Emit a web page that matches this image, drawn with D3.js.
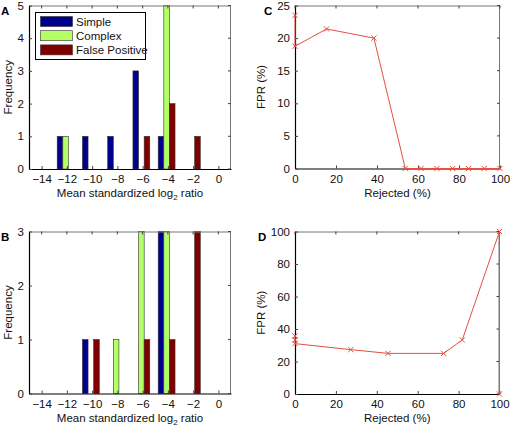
<!DOCTYPE html>
<html><head><meta charset="utf-8">
<script src="https://cdn.jsdelivr.net/npm/d3@7"></script>
<style>body{margin:0;background:#fff}svg{display:block}text{font-family:"Liberation Sans",Arial,sans-serif}</style>
</head><body>
<script>
// ---- data ----
const binCenters = [-12.1, -10.1, -8.1, -6.1, -4.1, -2.1];
const seriesNames = ["Simple", "Complex", "False Positive"];
const seriesColors = ["#00008f", "#b2ff66", "#800000"];
const histA_simple  = [1, 1, 1, 3, 1, 0];
const histA_complex = [1, 0, 0, 0, 5, 0];
const histA_fp      = [0, 0, 0, 1, 2, 1];
const histB_simple  = [0, 1, 0, 0, 3, 0];
const histB_complex = [0, 0, 1, 3, 3, 0];
const histB_fp      = [0, 1, 0, 1, 1, 3];
const histXTicks = [-14, -12, -10, -8, -6, -4, -2, 0];
const histATicksY = [0, 1, 2, 3, 4, 5];
const histBTicksY = [0, 1, 2, 3];
const rejectedC = [0, 0, 15.4, 38.5, 53.8, 61.5, 69.2, 76.9, 84.6, 92.3, 100];
const fprC      = [23.5, 18.75, 21.4, 20, 0, 0, 0, 0, 0, 0, 0];
const rejectedD = [0, 0, 0, 27.3, 45.5, 72.7, 81.8, 100, 100];
const fprD      = [35.7, 33.3, 31, 27.3, 25, 25, 33.3, 100, 0];
const lineXTicks = [0, 20, 40, 60, 80, 100];
const cTicksY = [0, 5, 10, 15, 20, 25];
const dTicksY = [0, 20, 40, 60, 80, 100];

const W = 510, H = 426;
const svg = d3.select("body").append("svg").attr("width", W).attr("height", H);
const FS = 11.5;

function frame(g, x, y, xt, yt, xLabel, yLabel, letter, L, T, R, B, letterX, yLabelX) {
  g.append("line").attr("x1", L).attr("x2", R).attr("y1", T + 0.5).attr("y2", T + 0.5).attr("stroke", "#777").attr("stroke-width", 1);
  g.append("line").attr("x1", R - 0.5).attr("x2", R - 0.5).attr("y1", T).attr("y2", B).attr("stroke", "#777").attr("stroke-width", 1);
  const xa = g.append("g").attr("transform", `translate(0,${B})`)
    .call(d3.axisBottom(x).tickValues(xt).tickSizeInner(-3).tickSizeOuter(0).tickPadding(6)
      .tickFormat(d => d < 0 ? "\u2212" + Math.abs(d) : String(d)));
  const ya = g.append("g").attr("transform", `translate(${L},0)`)
    .call(d3.axisLeft(y).tickValues(yt).tickSizeInner(-3).tickSizeOuter(0).tickPadding(5).tickFormat(d3.format("d")));
  [xa, ya].forEach(a => {
    a.select(".domain").attr("stroke", "#000").attr("stroke-width", 1.2);
    a.selectAll(".tick line").attr("stroke", "#444");
    a.selectAll("text").attr("font-size", FS).attr("fill", "#111").attr("font-family", '"Liberation Sans",Arial,sans-serif');
  });
  xt.forEach(v => g.append("line").attr("x1", x(v)).attr("x2", x(v)).attr("y1", T).attr("y2", T + 3).attr("stroke", "#444"));
  yt.forEach(v => g.append("line").attr("x1", R).attr("x2", R - 3).attr("y1", y(v)).attr("y2", y(v)).attr("stroke", "#444"));
  const xl = g.append("text").attr("x", (L + R) / 2).attr("y", B + 28).attr("text-anchor", "middle").attr("font-size", FS).attr("fill", "#111");
  if (Array.isArray(xLabel)) {
    xl.append("tspan").text(xLabel[0]);
    xl.append("tspan").attr("font-size", 8).attr("dy", 3).text(xLabel[1]);
    xl.append("tspan").attr("dy", -3).text(xLabel[2]);
  } else xl.text(xLabel);
  g.append("text").attr("transform", `translate(${yLabelX},${(T + B) / 2}) rotate(-90)`).attr("text-anchor", "middle").attr("font-size", FS).attr("fill", "#111").text(yLabel);
  g.append("text").attr("x", letterX).attr("y", T + 9).attr("font-size", 11.5).attr("font-weight", "bold").attr("fill", "#000").text(letter);
}

function histPanel(L, T, R, B, yMax, yt, data, letter, legend) {
  const g = svg.append("g");
  const x = d3.scaleLinear().domain([-15, 1]).range([L, R]);
  const y = d3.scaleLinear().domain([0, yMax]).range([B, T]);
  const bw = 2 * (2 / 3) / 3; // MATLAB grouped bar width
  data.forEach((vals, si) => {
    g.selectAll(null).data(binCenters.map((c, i) => ({c, v: vals[i]})).filter(d => d.v > 0)).enter()
      .append("rect")
      .attr("x", d => x(d.c + (si - 1) * bw - bw / 2))
      .attr("width", d => x(d.c + bw / 2) - x(d.c - bw / 2))
      .attr("y", d => y(d.v))
      .attr("height", d => y(0) - y(d.v))
      .attr("fill", seriesColors[si]).attr("stroke", "#333").attr("stroke-width", 0.6);
  });
  frame(g, x, y, histXTicks, yt, ["Mean standardized log", "2", " ratio"], "Frequency", letter, L, T, R, B, 1, 12);
  if (legend) {
    const lg = g.append("g");
    lg.append("rect").attr("x", 35.5).attr("y", 12.5).attr("width", 110).attr("height", 47).attr("fill", "#fff").attr("stroke", "#000").attr("stroke-width", 1);
    seriesNames.forEach((n, i) => {
      const cy = 21.5 + i * 14.2;
      lg.append("rect").attr("x", 40.5).attr("y", cy - 5).attr("width", 32).attr("height", 10).attr("fill", seriesColors[i]).attr("stroke", "#333").attr("stroke-width", 0.6);
      lg.append("text").attr("x", 76).attr("y", cy + 4).attr("font-size", FS).attr("fill", "#111").text(n);
    });
  }
}

function linePanel(L, T, R, B, yMax, yt, xs, ys, letter, letterX) {
  const g = svg.append("g");
  const x = d3.scaleLinear().domain([0, 100]).range([L, R]);
  const y = d3.scaleLinear().domain([0, yMax]).range([B, T]);
  frame(g, x, y, lineXTicks, yt, "Rejected (%)", "FPR (%)", letter, L, T, R, B, letterX, L - 30);
  const pts = xs.map((v, i) => [x(v), y(ys[i])]);
  const red = "#e4503f";
  g.append("path").attr("d", d3.line()(pts)).attr("fill", "none").attr("stroke", red).attr("stroke-width", 1);
  pts.forEach(p => {
    const s = 2.6;
    g.append("path").attr("d", `M${p[0]-s},${p[1]-s}L${p[0]+s},${p[1]+s}M${p[0]-s},${p[1]+s}L${p[0]+s},${p[1]-s}`)
      .attr("stroke", red).attr("stroke-width", 1).attr("fill", "none");
  });
}

histPanel(29, 5.5, 231, 169, 5, histATicksY, [histA_simple, histA_complex, histA_fp], "A", true);
histPanel(29, 231.5, 231, 393.5, 3, histBTicksY, [histB_simple, histB_complex, histB_fp], "B", false);
linePanel(295, 5.5, 500, 168.5, 25, cTicksY, rejectedC, fprC, "C", 264);
linePanel(295, 231.5, 499.5, 394, 100, dTicksY, rejectedD, fprD, "D", 258);
</script>
</body></html>
